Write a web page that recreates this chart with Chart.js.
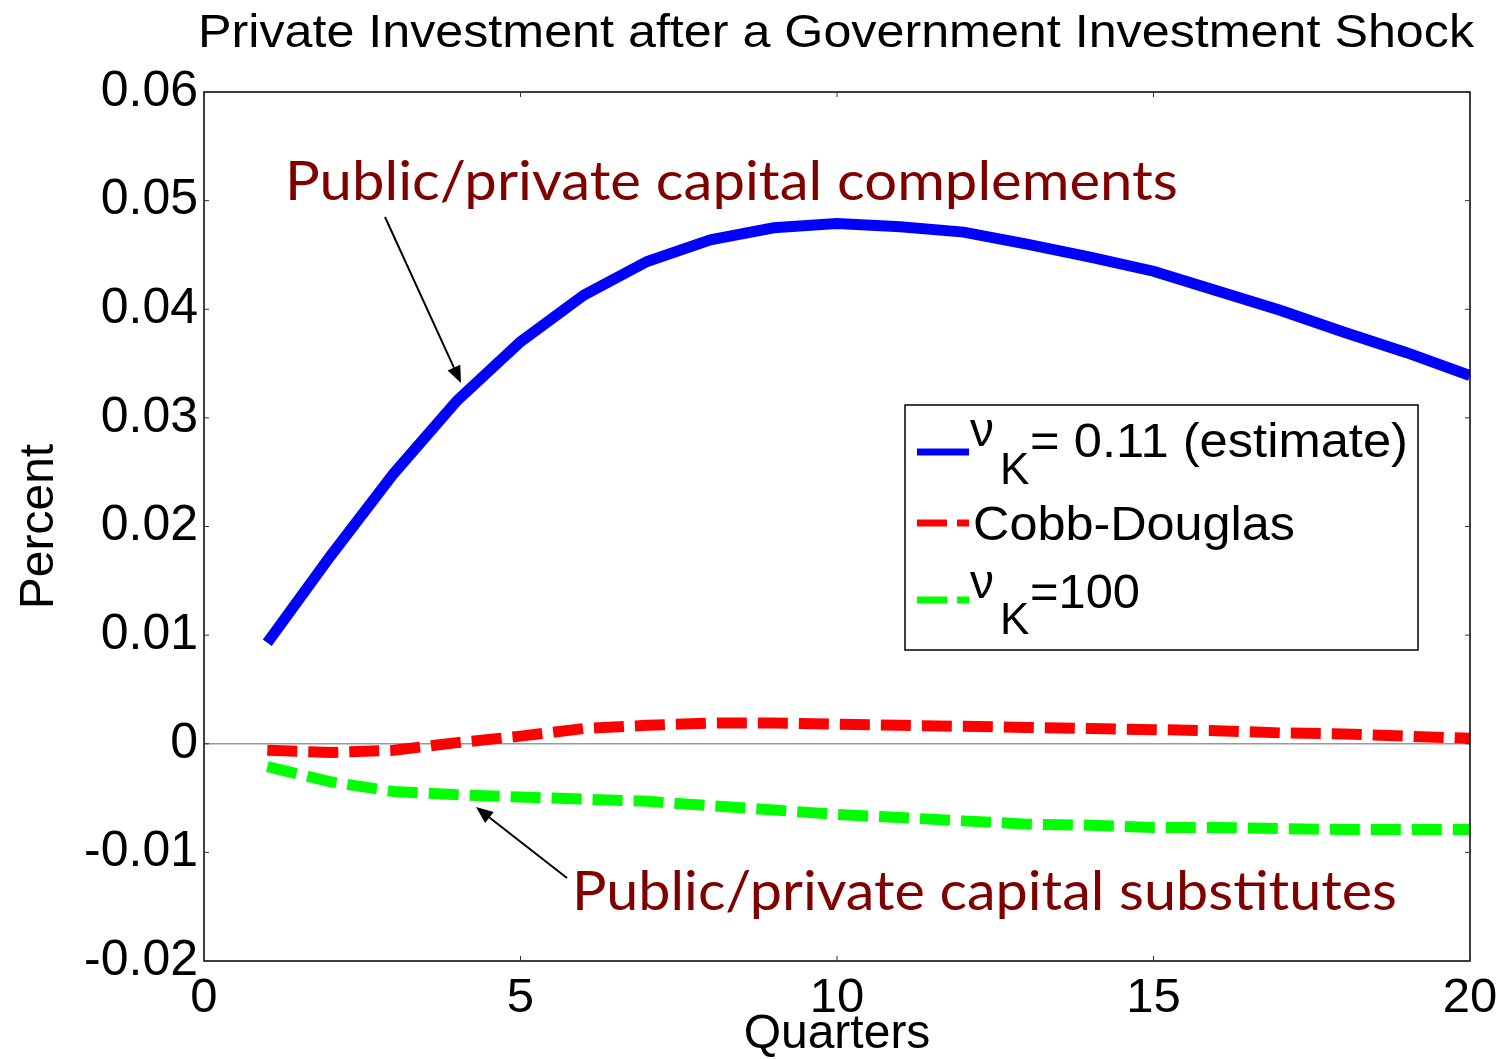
<!DOCTYPE html>
<html>
<head>
<meta charset="utf-8">
<script src="https://cdn.jsdelivr.net/npm/chart.js@4/dist/chart.umd.min.js"></script>
<style>
html,body{margin:0;padding:0;background:#fff;}
#wrap{width:1501px;height:1059px;position:relative;}
</style>
</head>
<body>
<div id="wrap"><canvas id="c" width="1501" height="1059"></canvas></div>
<script>
const quarters = [1,2,3,4,5,6,7,8,9,10,11,12,13,14,15,16,17,18,19,20];
const complementsSeries = [0.0093,0.0173,0.0249,0.0316,0.0370,0.0413,0.0444,0.0464,0.0475,0.0479,0.0476,0.0471,0.0460,0.0448,0.0435,0.0417,0.0399,0.0379,0.0360,0.0339];
const cobbDouglasSeries = [-0.0006,-0.0008,-0.0006,0.0001,0.0007,0.0014,0.0017,0.0019,0.0019,0.0018,0.0017,0.0016,0.0015,0.0014,0.0013,0.0012,0.0010,0.0009,0.0007,0.0005];
const substitutesSeries = [-0.0021,-0.0035,-0.0044,-0.0047,-0.0049,-0.0051,-0.0053,-0.0057,-0.0061,-0.0065,-0.0068,-0.0071,-0.0074,-0.0075,-0.0077,-0.0077,-0.0078,-0.0079,-0.0079,-0.0079];
const xTicks = [0,5,10,15,20];
const yTicks = [-0.02,-0.01,0,0.01,0.02,0.03,0.04,0.05,0.06];
const yTickLabels = ['-0.02','-0.01','0','0.01','0.02','0.03','0.04','0.05','0.06'];
const titleText = 'Private Investment after a Government Investment Shock';
const legendLabels = ['= 0.11 (estimate)','Cobb-Douglas','=100'];
const annotTop = 'Public/private capital complements';
const annotBottom = 'Public/private capital substitutes';

const SANS = '"Liberation Sans", Arial, Helvetica, sans-serif';
const HUMAN = 'Lato, "Open Sans", sans-serif';
const DARKRED = '#800000';

function toPts(arr){ return arr.map((v,i)=>({x:quarters[i], y:v})); }

const overlay = {
  id:'overlay',
  afterDraw(chart){
    const ctx = chart.ctx;
    const ca = chart.chartArea;
    const xs = chart.scales.x, ys = chart.scales.y;
    ctx.save();
    // box
    ctx.strokeStyle = '#000';
    ctx.lineWidth = 1.5;
    ctx.strokeRect(ca.left, ca.top, ca.right-ca.left, ca.bottom-ca.top);
    // inward ticks
    ctx.lineWidth = 1;
    ctx.strokeStyle = '#333';
    const tl = 5;
    xTicks.forEach(v=>{
      const px = xs.getPixelForValue(v);
      ctx.beginPath(); ctx.moveTo(px, ca.bottom); ctx.lineTo(px, ca.bottom-tl); ctx.stroke();
      ctx.beginPath(); ctx.moveTo(px, ca.top); ctx.lineTo(px, ca.top+tl); ctx.stroke();
    });
    yTicks.forEach(v=>{
      const py = ys.getPixelForValue(v);
      ctx.beginPath(); ctx.moveTo(ca.left, py); ctx.lineTo(ca.left+tl, py); ctx.stroke();
      ctx.beginPath(); ctx.moveTo(ca.right, py); ctx.lineTo(ca.right-tl, py); ctx.stroke();
    });
    // title
    ctx.fillStyle = '#000';
    ctx.textAlign = 'center';
    ctx.textBaseline = 'alphabetic';
    ctx.font = '47px ' + SANS;
    const tw = ctx.measureText(titleText).width;
    const tScale = 1276 / tw;
    ctx.save();
    ctx.translate(836, 47);
    ctx.scale(tScale, 1);
    ctx.fillText(titleText, 0, 0);
    ctx.restore();

    // annotations
    function fitText(txt, x0, x1, baseline, size){
      ctx.font = size + 'px ' + HUMAN;
      const w = ctx.measureText(txt).width;
      const s = (x1-x0)/w;
      ctx.save();
      ctx.translate(x0, baseline);
      ctx.scale(s, 1);
      ctx.textAlign = 'left';
      ctx.fillStyle = DARKRED;
      ctx.fillText(txt, 0, 0);
      ctx.restore();
    }
    fitText(annotTop, 285, 1178, 200, 54);
    fitText(annotBottom, 572, 1397, 910, 54);

    // arrows
    function arrow(x0,y0,x1,y1){
      ctx.strokeStyle = '#000';
      ctx.fillStyle = '#000';
      ctx.lineWidth = 2;
      const ang = Math.atan2(y1-y0, x1-x0);
      const hl = 17, hw = 7;
      const bx = x1 - hl*Math.cos(ang), by = y1 - hl*Math.sin(ang);
      ctx.beginPath(); ctx.moveTo(x0,y0); ctx.lineTo(bx,by); ctx.stroke();
      ctx.beginPath();
      ctx.moveTo(x1,y1);
      ctx.lineTo(bx + hw*Math.sin(ang), by - hw*Math.cos(ang));
      ctx.lineTo(bx - hw*Math.sin(ang), by + hw*Math.cos(ang));
      ctx.closePath(); ctx.fill();
    }
    arrow(385, 217, 461, 383);
    arrow(567, 878, 476, 807);

    // legend
    const lx = 905, ly = 405, lw = 513, lh = 245;
    ctx.fillStyle = '#fff';
    ctx.fillRect(lx, ly, lw, lh);
    ctx.strokeStyle = '#000';
    ctx.lineWidth = 1.5;
    ctx.strokeRect(lx, ly, lw, lh);
    const ds = chart.data.datasets;
    const rows = [452, 523, 600];
    ds.forEach((d,i)=>{
      ctx.strokeStyle = d.borderColor;
      ctx.lineWidth = 7;
      ctx.setLineDash(i===0 ? [] : [30,10]);
      ctx.lineCap = 'butt';
      ctx.beginPath(); ctx.moveTo(917, rows[i]); ctx.lineTo(969, rows[i]); ctx.stroke();
      ctx.setLineDash([]);
    });
    ctx.fillStyle = '#000';
    ctx.textAlign = 'left';
    ctx.textBaseline = 'alphabetic';
    function wideText(t, x, y, size, w){
      ctx.font = size + 'px ' + SANS;
      const m = ctx.measureText(t).width;
      ctx.save(); ctx.translate(x, y); ctx.scale(w/m, 1); ctx.fillText(t, 0, 0); ctx.restore();
    }
    ctx.font = '48px ' + SANS;
    ctx.fillText('\u03BD', 970, 446);
    ctx.font = '44px ' + SANS;
    ctx.fillText('K', 1000, 484);
    wideText(legendLabels[0], 1030, 457, 48, 378);
    wideText(legendLabels[1], 973, 540, 48, 322);
    ctx.font = '48px ' + SANS;
    ctx.fillText('\u03BD', 970, 598);
    ctx.font = '44px ' + SANS;
    ctx.fillText('K', 1000, 634);
    wideText(legendLabels[2], 1030, 608, 48, 110);
    ctx.restore();
  }
};

new Chart(document.getElementById('c'), {
  type:'line',
  data:{
    datasets:[
      {label:'\u03BD_K= 0.11 (estimate)', data:toPts(complementsSeries), borderColor:'#0000ff', borderWidth:11, pointRadius:0, tension:0, fill:false},
      {label:'Cobb-Douglas', data:toPts(cobbDouglasSeries), borderColor:'#ff0000', borderWidth:11, borderDash:[30,11], pointRadius:0, tension:0, fill:false},
      {label:'\u03BD_K=100', data:toPts(substitutesSeries), borderColor:'#00ff00', borderWidth:11, borderDash:[30,11], pointRadius:0, tension:0, fill:false}
    ]
  },
  options:{
    responsive:false,
    animation:false,
    layout:{padding:{left:0,right:31,top:92,bottom:0}},
    plugins:{legend:{display:false}, title:{display:false}, tooltip:{enabled:false}},
    scales:{
      x:{
        type:'linear', min:0, max:20,
        afterBuildTicks(s){ s.ticks = xTicks.map(v=>({value:v})); },
        afterFit(s){ s.height = 98; s.paddingRight = 0; s.paddingLeft = 0; },
        grid:{display:false, drawTicks:false},
        border:{display:false},
        ticks:{color:'#000', font:{family:SANS, size:49}, padding:8, maxRotation:0, autoSkip:false, callback:(v)=>String(v)},
        title:{display:true, text:'Quarters', color:'#000', font:{family:SANS, size:48, lineHeight:1}, padding:{top:0,bottom:0}}
      },
      y:{
        type:'linear', min:-0.02, max:0.06,
        afterBuildTicks(s){ s.ticks = yTicks.map(v=>({value:v})); },
        afterFit(s){ s.width = 204; s.paddingTop = 0; s.paddingBottom = 0; },
        grid:{drawTicks:false, drawOnChartArea:true, lineWidth:1.5, color:(c)=> (c.tick && Math.abs(c.tick.value) < 1e-9) ? '#999999' : 'rgba(0,0,0,0)'},
        border:{display:false},
        ticks:{color:'#000', font:{family:SANS, size:50}, padding:6, autoSkip:false, callback:(v,i)=>yTickLabels[i]},
        title:{display:true, text:'Percent', color:'#000', font:{family:SANS, size:48, lineHeight:1}, padding:{top:16,bottom:0}}
      }
    }
  },
  plugins:[overlay]
});
</script>
</body>
</html>
